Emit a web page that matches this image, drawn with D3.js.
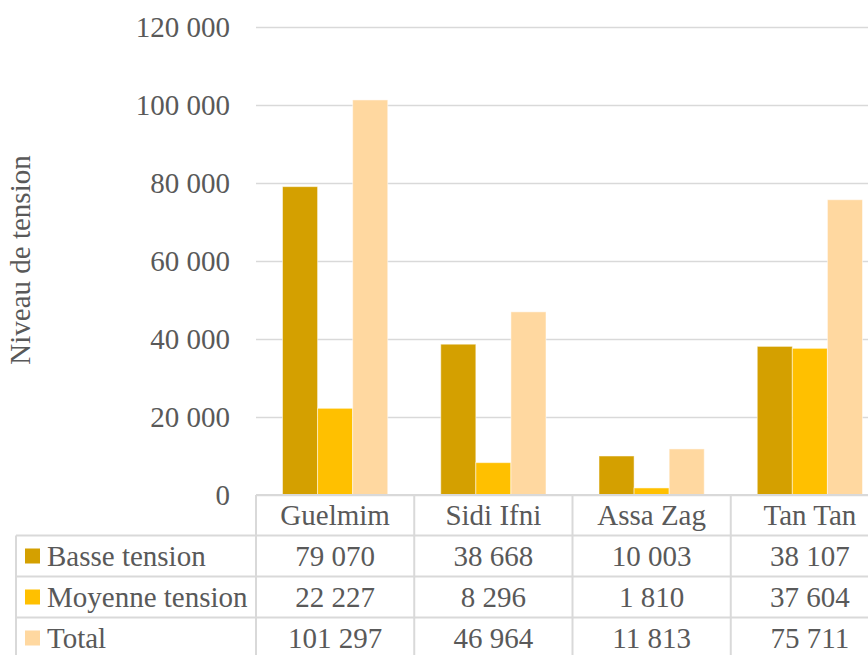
<!DOCTYPE html>
<html><head><meta charset="utf-8">
<script src="https://cdn.jsdelivr.net/npm/d3@7"></script>
<style>
html,body{margin:0;padding:0;background:#fff;overflow:hidden;}
</style></head>
<body>
<svg id="c" width="868" height="655"></svg>
<script>
const categories = ["Guelmim", "Sidi Ifni", "Assa Zag", "Tan Tan"];
const seriesNames = ["Basse tension", "Moyenne tension", "Total"];
const basse = [79070, 38668, 10003, 38107];
const moyenne = [22227, 8296, 1810, 37604];
const total = [101297, 46964, 11813, 75711];
const colors = ["#D4A000", "#FFC000", "#FFD8A0"];
const yTicks = [0, 20000, 40000, 60000, 80000, 100000, 120000];
const yTitle = "Niveau de tension";

(function () {
const seriesValues = [basse, moyenne, total];
const fmt = v => d3.format(",")(v).replace(/,/g, " ");
const FS = 29;
const FONT = "'Liberation Serif', 'Times New Roman', Tinos, 'DejaVu Serif', serif";

const svg = d3.select("#c").attr("font-family", FONT);
const pLeft = 256, pRight = 889, pTop = 27, pBottom = 495;
const x = d3.scaleBand().domain(categories).range([pLeft, pRight]);
const xs = d3.scaleBand().domain(seriesNames).range([26.5, x.bandwidth() - 26.5]);
const y = d3.scaleLinear().domain([0, 120000]).range([pBottom, pTop]);

const ax = svg.append("g").attr("transform", `translate(${pLeft},0)`)
  .call(d3.axisLeft(y).tickValues(yTicks).tickSize(-(pRight - pLeft)).tickPadding(26).tickFormat(fmt));
ax.attr("font-family", FONT).attr("font-size", FS);
ax.select(".domain").remove();
ax.selectAll(".tick line").attr("stroke", "#d9d9d9").attr("stroke-width", 1.5);
ax.selectAll(".tick text").attr("fill", "#595959").attr("font-family", FONT).attr("font-size", FS);

categories.forEach((c, ci) => {
  seriesNames.forEach((s, si) => {
    const v = seriesValues[si][ci];
    svg.append("rect")
      .attr("x", x(c) + xs(s))
      .attr("y", y(v))
      .attr("width", xs.bandwidth())
      .attr("height", y(0) - y(v))
      .attr("fill", colors[si])
      .attr("stroke", "rgba(255,255,255,0.5)")
      .attr("stroke-width", 1);
  });
});

svg.append("text")
  .attr("transform", `translate(30,260) rotate(-90)`)
  .attr("text-anchor", "middle")
  .attr("font-size", FS).attr("fill", "#595959").attr("font-family", FONT)
  .text(yTitle);

const rowTop = 495, headerH = 40.5, rowH = 41;
const tableLeft = 16;
const lineColor = "#d9d9d9";
const tg = svg.append("g");
tg.append("line").attr("x1", pLeft).attr("x2", pRight).attr("y1", rowTop).attr("y2", rowTop)
  .attr("stroke", lineColor).attr("stroke-width", 2);
for (let i = 0; i <= seriesNames.length; i++) {
  const yy = rowTop + headerH + i * rowH;
  tg.append("line").attr("x1", tableLeft).attr("x2", pRight).attr("y1", yy).attr("y2", yy)
    .attr("stroke", lineColor).attr("stroke-width", 2);
}
tg.append("line").attr("x1", tableLeft).attr("x2", tableLeft)
  .attr("y1", rowTop + headerH).attr("y2", 700).attr("stroke", lineColor).attr("stroke-width", 2);
categories.forEach(c => {
  tg.append("line").attr("x1", x(c)).attr("x2", x(c))
    .attr("y1", rowTop).attr("y2", 700).attr("stroke", lineColor).attr("stroke-width", 2);
});
tg.append("line").attr("x1", pRight).attr("x2", pRight)
  .attr("y1", rowTop).attr("y2", 700).attr("stroke", lineColor).attr("stroke-width", 2);

const txt = (sel) => sel.attr("font-size", FS).attr("fill", "#595959").attr("font-family", FONT);
categories.forEach(c => {
  tg.append("text").attr("x", x(c) + x.bandwidth() / 2).attr("y", rowTop + headerH / 2)
    .attr("dy", "0.35em").attr("text-anchor", "middle").call(txt).text(c);
});
seriesNames.forEach((s, si) => {
  const cy = rowTop + headerH + si * rowH + rowH / 2;
  tg.append("rect").attr("x", 25).attr("y", cy - 7.5).attr("width", 15).attr("height", 15).attr("fill", colors[si]);
  tg.append("text").attr("x", 47).attr("y", cy).attr("dy", "0.35em").call(txt).text(s);
  categories.forEach((c, ci) => {
    tg.append("text").attr("x", x(c) + x.bandwidth() / 2).attr("y", cy).attr("dy", "0.35em")
      .attr("text-anchor", "middle").call(txt).text(fmt(seriesValues[si][ci]));
  });
});
})();
</script>
</body></html>
